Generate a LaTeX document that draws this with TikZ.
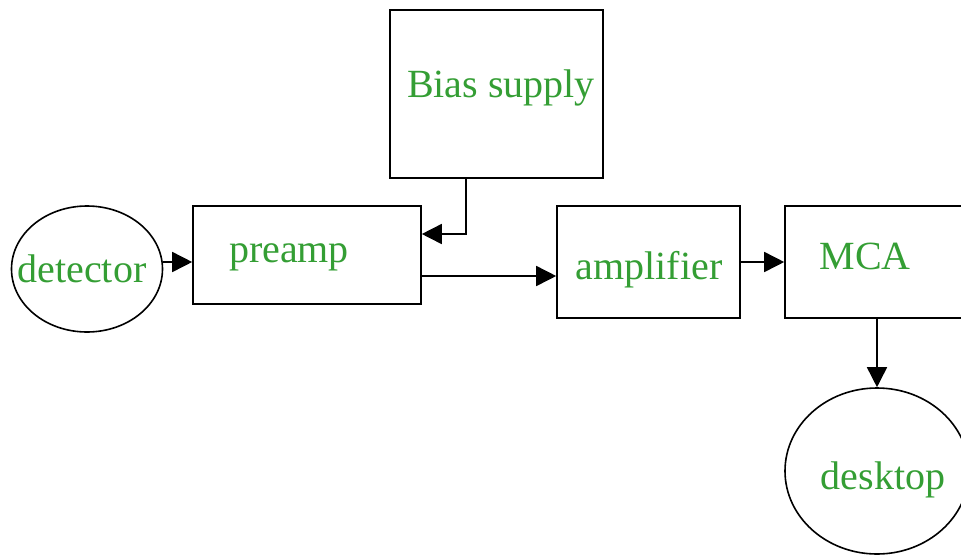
\documentclass[tikz,border=0pt]{standalone}
\usepackage{fontspec}
\setmainfont{Liberation Serif}
\usetikzlibrary{shapes.geometric,arrows.meta}
\definecolor{txtgreen}{RGB}{52,158,52}
\tikzset{
  box/.style={draw=black, line width=1.6pt, rectangle, inner sep=0pt},
  oval/.style={draw=black, line width=1.6pt, ellipse, inner sep=0pt},
  lbl/.style={text=txtgreen, font=\fontsize{40}{46}\selectfont, inner sep=0pt},
  arr/.style={line width=1.6pt, -{Triangle[length=20pt,width=20pt]}}
}
\begin{document}
\begin{tikzpicture}[x=1pt,y=-1pt]
\clip (0,0) rectangle (961,555);
\node[oval, minimum width=151pt, minimum height=126pt] (detector) at (87,269) {};
\node[lbl] (detectortxt) at (82,269) {detector};
\node[box, minimum width=228pt, minimum height=98pt] (preamp) at (307,255) {};
\node[lbl] (preamptxt) at (289,257) {preamp};
\node[box, minimum width=213pt, minimum height=168pt] (bias) at (496.5,94) {};
\node[lbl] (biastxt) at (501,88) {Bias supply};
\node[box, minimum width=183pt, minimum height=112pt] (amp) at (648.5,262) {};
\node[lbl] (amptxt) at (649,270) {amplifier};
\node[box, minimum width=200pt, minimum height=112pt] (mca) at (885,262) {};
\node[lbl] (mcatxt) at (865,256) {MCA};
\node[oval, minimum width=184pt, minimum height=166pt] (desktop) at (877,471) {};
\node[lbl] (desktoptxt) at (883,480) {desktop};
\draw[arr] ([yshift=7pt]detector.east) -- ([yshift=7pt]detector.east -| preamp.west);
\draw[arr] ([xshift=-30.5pt]bias.south) |- ([yshift=21pt]preamp.east);
\draw[arr] ([yshift=-21pt]preamp.east) -- ([yshift=-21pt]preamp.east -| amp.west);
\draw[arr] (amp.east) -- (mca.west);
\draw[arr] (desktop.north |- mca.south) -- (desktop.north);
\end{tikzpicture}
\end{document}
